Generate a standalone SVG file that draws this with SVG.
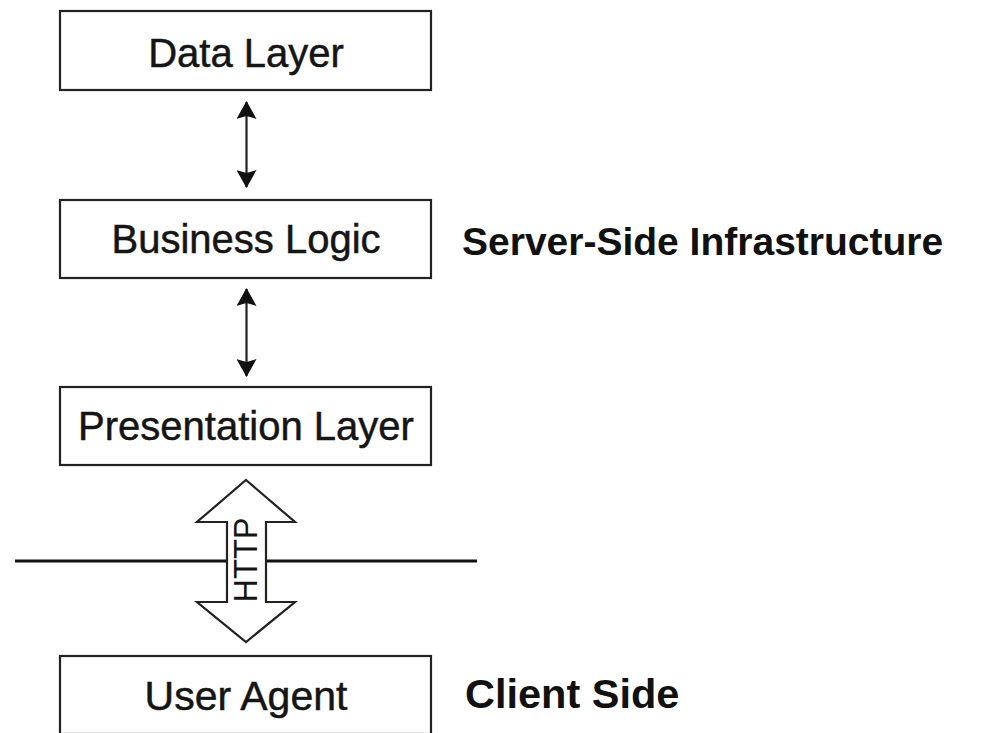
<svg xmlns="http://www.w3.org/2000/svg" width="986" height="733" viewBox="0 0 986 733">
<style>
.box{fill:#fff;stroke:#222;stroke-width:2.2}
.lbl{font-family:"Liberation Sans",Arial,sans-serif;font-size:40px;fill:#151515;stroke:#151515;stroke-width:0.5;text-anchor:middle}
.side{font-family:"Liberation Sans",Arial,sans-serif;font-size:39px;font-weight:bold;fill:#111}
.conn{stroke:#222;stroke-width:2.2;fill:none}
</style>
<defs>
<marker id="ah" viewBox="0 0 18 20" refX="17" refY="10" markerWidth="18" markerHeight="20" markerUnits="userSpaceOnUse" orient="auto-start-reverse">
<path d="M0,0 L18,10 L0,20 L3,10 Z" fill="#111"/>
</marker>
</defs>
<rect width="986" height="733" fill="#fff"/>
<g id="data-layer">
<rect class="box" x="60" y="11" width="371" height="79"/>
<text class="lbl" x="246" y="67">Data Layer</text>
</g>
<g id="business-logic">
<rect class="box" x="60" y="200" width="371" height="78"/>
<text class="lbl" x="246" y="253">Business Logic</text>
</g>
<g id="presentation-layer">
<rect class="box" x="60" y="387" width="371" height="78"/>
<text class="lbl" x="246" y="440">Presentation Layer</text>
</g>
<g id="user-agent">
<rect class="box" x="60" y="656" width="371" height="78"/>
<text class="lbl" x="246" y="710" style="font-size:41px">User Agent</text>
</g>
<g id="labels">
<text class="side" x="462" y="255">Server-Side Infrastructure</text>
<text class="side" x="465" y="708" style="font-size:41.5px">Client Side</text>
</g>
<g id="boundary">
<line x1="15" y1="561" x2="477" y2="561" stroke="#111" stroke-width="3.2"/>
</g>
<g id="connectors">
<line class="conn" x1="246.5" y1="102" x2="246.5" y2="187" marker-start="url(#ah)" marker-end="url(#ah)"/>
<line class="conn" x1="246.5" y1="289" x2="246.5" y2="376" marker-start="url(#ah)" marker-end="url(#ah)"/>
<g id="http-arrow">
<path d="M246,480 L295,522 L266,522 L266,602 L295,602 L246,642 L197,602 L227,602 L227,522 L197,522 Z" fill="#fff" stroke="#222" stroke-width="2.2" stroke-linejoin="miter"/>
<text x="257" y="560" transform="rotate(-90 257 560)" font-family="Liberation Sans,Arial,sans-serif" font-size="33" fill="#151515" text-anchor="middle" textLength="85" lengthAdjust="spacingAndGlyphs">HTTP</text>
</g>
</g>
</svg>
